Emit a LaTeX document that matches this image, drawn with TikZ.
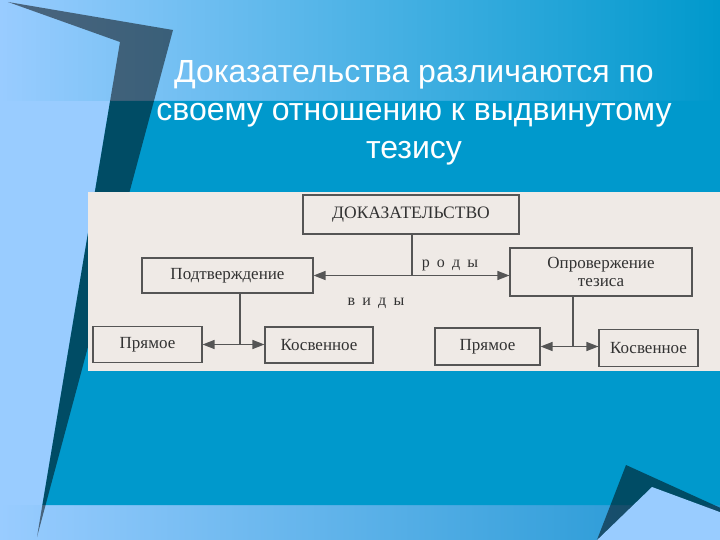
\documentclass[tikz,border=0pt]{standalone}
\usepackage{fontspec}
\setmainfont{Liberation Serif}
\newfontfamily\titlefont{Liberation Sans}
\usetikzlibrary{arrows.meta,calc}
\definecolor{lightbg}{RGB}{153,204,255}
\definecolor{midblue}{RGB}{0,153,204}
\definecolor{bandright}{RGB}{30,150,210}
\definecolor{paper}{RGB}{239,234,230}
\definecolor{ink}{RGB}{50,50,50}
\definecolor{boxline}{RGB}{85,85,85}
\begin{document}
\begin{tikzpicture}[x=1pt,y=-1pt,
  box/.style={draw=boxline,line width=1.1pt,inner sep=0pt,text=ink,
    font=\fontsize{17}{19}\selectfont,align=center},
  link/.style={draw=boxline,line width=1.2pt},
  dbl/.style={link,{Triangle[length=12pt,width=9pt]}-{Triangle[length=12pt,width=9pt]}},
  lbl/.style={text=ink,font=\fontsize{16}{18}\selectfont,anchor=base,inner sep=0pt},
  title/.style={text=white,font=\titlefont\fontsize{32}{38}\selectfont,anchor=base,inner sep=0pt}]

\useasboundingbox (0,0) rectangle (720,540);
% background
\fill[lightbg] (0,0) rectangle (720,540);
\shade[left color=lightbg,right color=midblue] (0,0) rectangle (720,101);
\shade[left color=lightbg,right color=bandright] (0,505) rectangle (720,540);
\fill[midblue] (110.1,101) -- (720,101) -- (720,505) -- (42.4,505) -- cycle;
% decorative bars
\fill[black,opacity=0.5] (8,2) -- (173,30) -- (37,537) -- (120,42) -- cycle;
\fill[black,opacity=0.5] (626,465) -- (725,510) -- (725,545) -- (595,545) -- cycle;
\fill[lightbg] (652,487) -- (725,514) -- (725,545) -- (592,545) -- cycle;

% title
\node[title] (t1) at (414,83) {Доказательства различаются по};
\node[title] (t2) at (414,121) {своему отношению к выдвинутому};
\node[title] (t3) at (414,159) {тезису};

% scanned picture
\fill[paper] (88,192) rectangle (720,371);

\node[box,minimum width=216pt,minimum height=39pt,font=\fontsize{17.5}{19}\selectfont] (dok) at (411,214.5) {ДОКАЗАТЕЛЬСТВО};
\node[box,minimum width=171pt,minimum height=35pt] (podt) at (227.5,275.5) {Подтверждение};
\node[box,minimum width=182pt,minimum height=48pt] (opr) at (601,272) {Опровержение\\[-1pt]тезиса};
\node[box,minimum width=109pt,minimum height=36pt] (pr1) at (147.5,344.5) {Прямое};
\node[box,minimum width=108pt,minimum height=36pt] (kos1) at (319,345) {Косвенное};
\node[box,minimum width=105pt,minimum height=37pt] (pr2) at (487.5,346.5) {Прямое};
\node[box,minimum width=99pt,minimum height=37pt] (kos2) at (648.5,348) {Косвенное};

\coordinate (j0) at (412,275.5);
\coordinate (j1) at (240,344.5);
\coordinate (j2) at (573,346.5);

\draw[link] (dok.south -| j0) -- (j0);
\draw[dbl] (podt.east) -- (podt.east -| opr.west);
\draw[link] (podt.south -| j1) -- (j1);
\draw[dbl] (pr1.east) -- (pr1.east -| kos1.west);
\draw[link] (opr.south -| j2) -- (j2);
\draw[dbl] (pr2.east) -- (pr2.east -| kos2.west);

\node[lbl] (rody) at (450,267) {р\hspace{0.45em}о\hspace{0.45em}д\hspace{0.45em}ы};
\node[lbl] (vidy) at (376,305) {в\hspace{0.45em}и\hspace{0.45em}д\hspace{0.45em}ы};
\end{tikzpicture}
\end{document}
